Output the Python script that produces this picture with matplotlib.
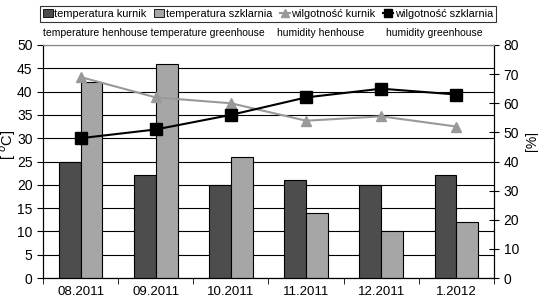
import numpy as np
import matplotlib
matplotlib.use('Agg')
from matplotlib import pyplot as plt
from matplotlib.lines import Line2D
from matplotlib.patches import Patch

months = ['08.2011', '09.2011', '10.2011', '11.2011', '12.2011', '1.2012']
temp_kurnik = [25, 22, 20, 21, 20, 22]
temp_szklarnia = [42, 46, 26, 14, 10, 12]
wilg_kurnik = [69, 62, 60, 54, 55.5, 52]
wilg_szklarnia = [48, 51, 56, 62, 65, 63]

plt.rcParams['font.family'] = ['Liberation Sans', 'DejaVu Sans']

fig = plt.figure(figsize=(5.38, 3.05), dpi=100)
ax = fig.add_axes([43 / 538, 27 / 305, 451 / 538, 233 / 305])
ax2 = ax.twinx()

x = np.arange(len(months))
w = 0.29
ax.bar(x - w / 2, temp_kurnik, w, color='#4d4d4d', edgecolor='black', linewidth=0.8, zorder=3)
ax.bar(x + w / 2, temp_szklarnia, w, color='#a6a6a6', edgecolor='black', linewidth=0.8, zorder=3)

ax.set_ylim(0, 50)
ax.set_yticks(range(0, 51, 5))
ax.set_xlim(-0.5, len(months) - 0.5)
ax.set_xticks(x)
ax.set_xticklabels(months, fontsize=9.5)
ax.set_xticks(np.arange(-0.5, len(months), 1), minor=True)
ax.tick_params(axis='x', which='major', length=0, pad=6)
ax.tick_params(axis='x', which='minor', length=4, direction='out')
ax.tick_params(axis='y', labelsize=10, length=4)
ax.yaxis.grid(True, color='black', linewidth=0.8, zorder=0)
ax.set_axisbelow(True)
ax.set_ylabel('[ $^{o}$C]', fontsize=10.5)
ax.yaxis.set_label_coords(-0.055, 0.57)
ax.spines['top'].set_color('#888888')

ax2.plot(x, wilg_kurnik, color='#999999', marker='^', markersize=7, linewidth=1.5, zorder=4)
ax2.plot(x, wilg_szklarnia, color='black', marker='s', markersize=8, linewidth=1.5, zorder=5)
ax2.set_ylim(0, 80)
ax2.set_yticks(range(0, 81, 10))
ax2.tick_params(axis='y', labelsize=10, direction='inout', length=7)
ax2.set_ylabel('[%]', fontsize=10)
ax2.yaxis.set_label_coords(1.068, 0.59)
ax2.spines['top'].set_color('#888888')

handles = [
    Patch(facecolor='#4d4d4d', edgecolor='black', linewidth=0.6),
    Patch(facecolor='#a6a6a6', edgecolor='black', linewidth=0.6),
    Line2D([], [], color='#999999', marker='^', markersize=6, linewidth=1.5),
    Line2D([], [], color='black', marker='s', markersize=6, linewidth=1.5),
]
labels = ['temperatura kurnik', 'temperatura szklarnia', 'wilgotność kurnik', 'wilgotność szklarnia']
leg = fig.legend(handles, labels, loc='center', bbox_to_anchor=(268 / 538, 1 - 14 / 305), ncol=4,
                 fontsize=7.9, frameon=True, fancybox=False, edgecolor='black',
                 handlelength=0.9, handletextpad=0.15, columnspacing=0.7, borderpad=0.3,
                 borderaxespad=0)
leg.get_frame().set_linewidth(0.8)

fig.text(43 / 538, 1 - 33 / 305, 'temperature henhouse temperature greenhouse', fontsize=7.5, va='center')
fig.text(277 / 538, 1 - 33 / 305, 'humidity henhouse', fontsize=7.5, va='center')
fig.text(386 / 538, 1 - 33 / 305, 'humidity greenhouse', fontsize=7.5, va='center')

fig.savefig('out.png', dpi=100)
